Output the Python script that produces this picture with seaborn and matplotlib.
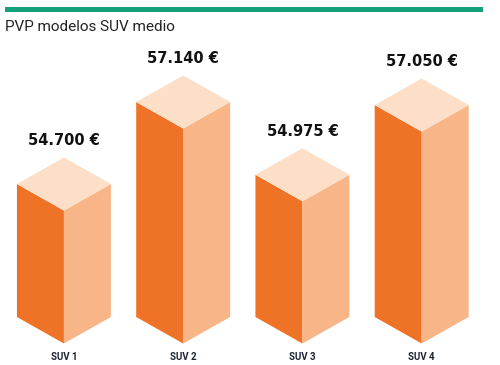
import matplotlib
matplotlib.use("Agg")
import matplotlib.pyplot as plt
import matplotlib.patches as mpatches
import seaborn as sns
import pandas as pd

# data
modelos = ["SUV 1", "SUV 2", "SUV 3", "SUV 4"]
precios = [54700, 57140, 54975, 57050]
etiquetas = ["54.700 €", "57.140 €", "54.975 €", "57.050 €"]

titulo = "PVP modelos SUV medio"

c_front = "#EE7327"
c_side = "#F8B587"
c_top = "#FDDEC7"
c_green = "#17a07c"

sns.set_style("white")

df = pd.DataFrame({"modelo": modelos, "precio": precios})

fig = plt.figure(figsize=(5, 3.65), dpi=100)
ax = fig.add_axes([4.3 / 500, 15 / 365, 477 / 500, 330 / 365])

sns.barplot(data=df, x="modelo", y="precio", width=0.788, ax=ax)

base = 50742   # value at bottom corners of the boxes
dy = 789       # isometric vertical offset in data units

bars = list(ax.patches)
for p, lab in zip(bars, etiquetas):
    left = p.get_x()
    w = p.get_width()
    mid = left + w / 2
    right = left + w
    top = p.get_height()
    # front-left face
    ax.add_patch(mpatches.Polygon([(left, base), (mid, base - dy), (mid, top - dy), (left, top)],
                                  closed=True, facecolor=c_front, edgecolor="none"))
    # right face
    ax.add_patch(mpatches.Polygon([(mid, base - dy), (right, base), (right, top), (mid, top - dy)],
                                  closed=True, facecolor=c_side, edgecolor="none"))
    # top face
    ax.add_patch(mpatches.Polygon([(left, top), (mid, top - dy), (right, top), (mid, top + dy)],
                                  closed=True, facecolor=c_top, edgecolor="none"))
    ax.annotate(lab, (mid, top), xytext=(0, 31), textcoords="offset points",
                ha="center", va="center", fontsize=10.5, fontweight="bold",
                family=["DejaVu Sans"], color="#111111")
    p.remove()

ax.set_xlim(-0.5, 3.5)
ax.set_ylim(49760, 59581)
ax.set_xlabel("")
ax.set_ylabel("")
ax.set_yticks([])
ax.tick_params(axis="x", length=0, pad=1.5, labelsize=7, labelcolor="#1c2433")
for t in ax.get_xticklabels():
    t.set_family(["Roboto", "DejaVu Sans"])
    t.set_fontweight("bold")
sns.despine(ax=ax, left=True, bottom=True)

# green rule and title
fig.add_artist(mpatches.Rectangle((5 / 500, 1 - 12 / 365), 478 / 500, 4.5 / 365,
                                  transform=fig.transFigure, facecolor=c_green, edgecolor="none"))
fig.text(5 / 500, 1 - 27 / 365, titulo, ha="left", va="center", fontsize=11,
         family=["Roboto", "DejaVu Sans"], color="#222222")

fig.savefig("out.png", dpi=100)
